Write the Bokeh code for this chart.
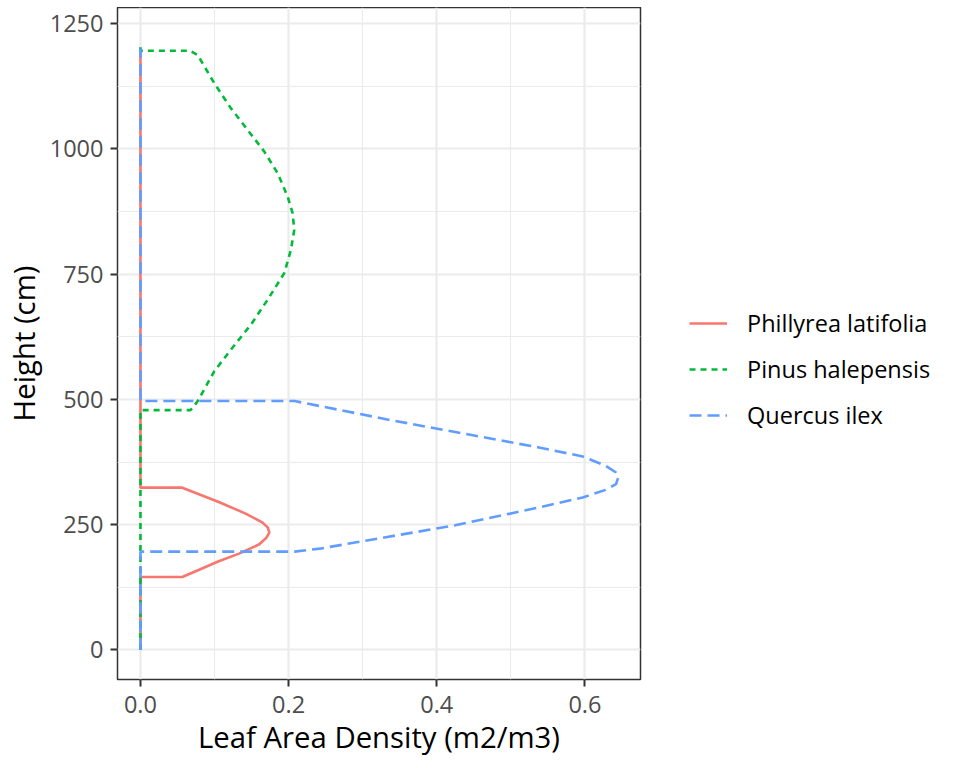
from bokeh.plotting import figure
from bokeh.models import Range1d, FixedTicker, Legend, LegendItem, Spacer
from bokeh.layouts import row, column
from bokeh.embed import file_html
from bokeh.resources import INLINE

# ---- data ----
species = ["Phillyrea latifolia", "Pinus halepensis", "Quercus ilex"]

phil_height = [0, 145.6, 145.6, 176.9, 192.2, 210.8, 224.0, 234.0, 244.0, 254.0, 271.9, 295.2, 323.8, 323.8, 1200]
phil_lad = [0, 0, 0.0565, 0.1057, 0.133, 0.1604, 0.170, 0.174, 0.172, 0.1649, 0.1421, 0.1057, 0.0565, 0, 0]

pinus_height = [0, 478.6, 478.6, 483.3, 496.6, 556.3, 599.5, 649.3, 699.0, 752.2, 798.6, 838.4,
                871.6, 904.8, 951.3, 994.4, 1037.6, 1080.7, 1130.5, 1187.0, 1195.6, 1195.6, 1208]
pinus_lad = [0, 0, 0.0674, 0.0706, 0.0773, 0.0998, 0.1222, 0.1492, 0.1717, 0.1942, 0.2031, 0.2076,
             0.2054, 0.1987, 0.1852, 0.1672, 0.1447, 0.1222, 0.0998, 0.0773, 0.0674, 0, 0]

quercus_height = [0, 196.1, 196.1, 202.1, 225.4, 248.7, 284.3, 304.3, 319.4, 330.8, 344.2, 354.1,
                  367.3, 386.1, 404.0, 434.8, 460.0, 486.7, 496.7, 496.7, 1200]
quercus_lad = [0, 0, 0.208, 0.242, 0.333, 0.425, 0.538, 0.597, 0.628, 0.642, 0.645, 0.642,
               0.628, 0.597, 0.538, 0.425, 0.333, 0.242, 0.208, 0, 0]

x_ticks = [0, 0.2, 0.4, 0.6]
x_tick_labels = ["0.0", "0.2", "0.4", "0.6"]
x_minor = [0.1, 0.3, 0.5]
y_ticks = [0, 250, 500, 750, 1000, 1250]
y_minor = [125, 375, 625, 875, 1125]

colors = ["#F8766D", "#00BA38", "#619CFF"]
dashes = ["solid", "6 5", "12 6"]

FONT = "Open Sans"

p = figure(frame_width=523, frame_height=672,
           output_backend="svg", toolbar_location=None,
           x_range=Range1d(-0.031, 0.675), y_range=Range1d(-59, 1282),
           min_border_left=110, min_border_top=0, min_border_right=3, min_border_bottom=0)
p.background_fill_color = "white"
p.border_fill_color = "white"
p.outline_line_color = "#333333"
p.outline_line_width = 1.5

p.xaxis.ticker = FixedTicker(ticks=x_ticks, minor_ticks=x_minor)
p.yaxis.ticker = FixedTicker(ticks=y_ticks, minor_ticks=y_minor)
p.xaxis.major_label_overrides = {t: l for t, l in zip(x_ticks, x_tick_labels)}

for ax in (p.xaxis, p.yaxis):
    ax.axis_line_color = None
    ax.minor_tick_line_color = None
    ax.major_tick_line_color = "#333333"
    ax.major_tick_line_width = 2
    ax.major_tick_out = 7
    ax.major_tick_in = 0
    ax.major_label_text_font = FONT
    ax.major_label_text_font_size = "23.5px"
    ax.major_label_text_color = "#4d4d4d"
    ax.axis_label_text_font = FONT
    ax.axis_label_text_font_size = "29.3px"
    ax.axis_label_text_font_style = "normal"
    ax.axis_label_text_color = "black"

p.xaxis.axis_label = "Leaf Area Density (m2/m3)"
p.yaxis.axis_label = "Height (cm)"
p.xaxis.major_label_standoff = 9
p.yaxis.major_label_standoff = 7
p.xaxis.axis_label_standoff = 1
p.yaxis.axis_label_standoff = 3

for g in (p.xgrid, p.ygrid):
    g.grid_line_color = "#ebebeb"
    g.grid_line_width = 2.2
    g.minor_grid_line_color = "#ebebeb"
    g.minor_grid_line_width = 1.1

styles = list(zip(colors, dashes))
series_x = [phil_lad, pinus_lad, quercus_lad]
series_y = [phil_height, pinus_height, quercus_height]
for xs, ys, (c, d) in zip(series_x, series_y, styles):
    p.line(xs, ys, line_color=c, line_width=2.6, line_dash=d)

# legend panel: a separate canvas to the right of the plot; its x range keeps
# the (same) series out of view so only the legend shows
lg = figure(frame_width=290, frame_height=760, output_backend="svg", toolbar_location=None,
            x_axis_type=None, y_axis_type=None,
            x_range=Range1d(1, 2), y_range=Range1d(0, 1), min_border=0)
lg.outline_line_color = None
lg.xgrid.visible = False
lg.ygrid.visible = False
proxies = [lg.line(xs, ys, line_color=c, line_width=2.6, line_dash=d)
           for xs, ys, (c, d) in zip(series_x, series_y, styles)]

legend = Legend(items=[LegendItem(label=s, renderers=[r]) for s, r in zip(species, proxies)],
                location=(46, 329))
legend.padding = 0
legend.margin = 0
legend.spacing = 0
legend.glyph_width = 38
legend.glyph_height = 46
legend.label_height = 46
legend.label_standoff = 20
legend.label_text_font = FONT
legend.label_text_font_size = "23.5px"
legend.label_text_color = "black"
legend.border_line_color = None
legend.background_fill_alpha = 0
lg.add_layout(legend, "center")

layout = column(Spacer(width=10, height=7), row(p, lg))
open("out.html", "w").write(file_html(layout, INLINE))
